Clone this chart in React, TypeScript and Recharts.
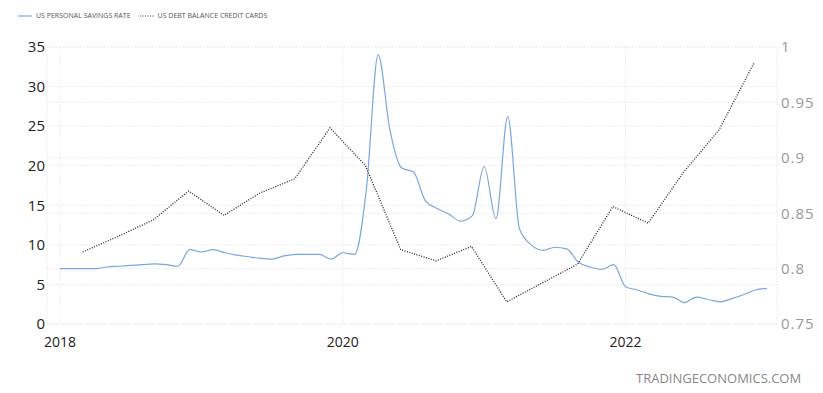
import { LineChart, Line, XAxis, YAxis, CartesianGrid } from "recharts"

// monthly, Jan 2018 .. Jan 2023
const savingsRate = [
  7.0, 7.0, 7.0, 7.0, 7.2, 7.3, 7.4, 7.5, 7.6, 7.5, 7.3, 9.4,
  9.1, 9.4, 9.0, 8.7, 8.5, 8.3, 8.2, 8.6, 8.8, 8.8, 8.8, 8.2,
  9.0, 8.8, 17.0, 34.0, 24.5, 19.7, 19.2, 15.6, 14.6, 13.9, 13.0, 13.7,
  19.9, 13.3, 26.2, 12.0, 10.0, 9.3, 9.7, 9.5, 7.8, 7.2, 6.9, 7.5,
  4.7, 4.3, 3.8, 3.5, 3.4, 2.7, 3.4, 3.1, 2.8, 3.2, 3.7, 4.3,
  4.5,
]

// quarterly, Q1 2018 .. Q4 2022 (USD trillion)
const debtQuarters = [
  "2018Q1", "2018Q2", "2018Q3", "2018Q4",
  "2019Q1", "2019Q2", "2019Q3", "2019Q4",
  "2020Q1", "2020Q2", "2020Q3", "2020Q4",
  "2021Q1", "2021Q2", "2021Q3", "2021Q4",
  "2022Q1", "2022Q2", "2022Q3", "2022Q4",
]
const debtBalance = [
  0.815, 0.829, 0.844, 0.870,
  0.848, 0.868, 0.881, 0.927,
  0.893, 0.817, 0.807, 0.820,
  0.770, 0.787, 0.804, 0.856,
  0.841, 0.887, 0.925, 0.986,
]

const yearTicks = [2018, 2020, 2022]
const leftTicks = [0, 5, 10, 15, 20, 25, 30, 35]
const rightTicks = [0.75, 0.8, 0.85, 0.9, 0.95, 1]

const savingsData = savingsRate.map((v, i) => ({ t: 2018 + i / 12, savings: v }))
// the debt series sits on its own time axis in the source chart, slightly offset
const debtData = debtBalance.map((v, i) => ({ t: 2018.16 + i / 4, debt: v, q: debtQuarters[i] }))

const font = "'Open Sans', 'DejaVu Sans', sans-serif"

export default function App() {
  return (
    <div style={{ position: "absolute", left: 0, top: 0, width: 823, height: 393, background: "#fff", fontFamily: font }}>
      <div style={{ position: "absolute", left: 18, top: 11, display: "flex", alignItems: "center", fontSize: 7, color: "#555", whiteSpace: "nowrap" }}>
        <svg width={14} height={4} style={{ marginRight: 4 }}>
          <line x1={0} y1={2} x2={14} y2={2} stroke="#7ba7dc" strokeWidth={1.2} />
        </svg>
        <span>US PERSONAL SAVINGS RATE</span>
        <svg width={14} height={4} style={{ marginLeft: 9, marginRight: 4 }}>
          <line x1={0} y1={2} x2={14} y2={2} stroke="#333" strokeWidth={1.2} strokeDasharray="1 1.5" />
        </svg>
        <span>US DEBT BALANCE CREDIT CARDS</span>
      </div>

      <LineChart width={823} height={393} margin={{ top: 47, right: 0, bottom: 39, left: 0 }}>
        <CartesianGrid yAxisId="left" xAxisId="x" vertical={true} horizontal={true} stroke="#ededed" strokeDasharray="2 1" />
        <CartesianGrid yAxisId="right" xAxisId="x" vertical={false} horizontal={true} stroke="#ededed" strokeDasharray="2 1" />
        <XAxis
          xAxisId="x"
          type="number"
          dataKey="t"
          domain={[2017.908, 2023.071]}
          ticks={yearTicks}
          allowDataOverflow
          axisLine={false}
          tickLine={false}
          tickSize={0}
          tickMargin={13}
          height={30}
          tick={{ fontSize: 14, fill: "#222", fontFamily: font }}
        />
        <YAxis
          yAxisId="left"
          domain={[0, 35]}
          ticks={leftTicks}
          width={47}
          axisLine={false}
          tickLine={false}
          tickSize={0}
          tickMargin={2}
          tick={{ fontSize: 15, fill: "#222", fontFamily: font }}
        />
        <YAxis
          yAxisId="right"
          orientation="right"
          domain={[0.75, 1]}
          ticks={rightTicks}
          width={46}
          axisLine={false}
          tickLine={false}
          tickSize={0}
          tickMargin={4}
          tick={{ fontSize: 15, fill: "#999", fontFamily: font, letterSpacing: 1 }}
        />
        <Line
          data={savingsData}
          xAxisId="x"
          yAxisId="left"
          dataKey="savings"
          type="monotone"
          stroke="#7ba7dc"
          strokeWidth={1.2}
          dot={false}
          isAnimationActive={false}
        />
        <Line
          data={debtData}
          xAxisId="x"
          yAxisId="right"
          dataKey="debt"
          type="linear"
          stroke="#222"
          strokeWidth={1.3}
          strokeDasharray="1 1.5"
          dot={false}
          isAnimationActive={false}
        />
      </LineChart>

      <div style={{ position: "absolute", left: 636, top: 369, fontSize: 13, color: "#888", letterSpacing: 0, whiteSpace: "nowrap" }}>
        TRADINGECONOMICS.COM
      </div>
    </div>
  )
}
